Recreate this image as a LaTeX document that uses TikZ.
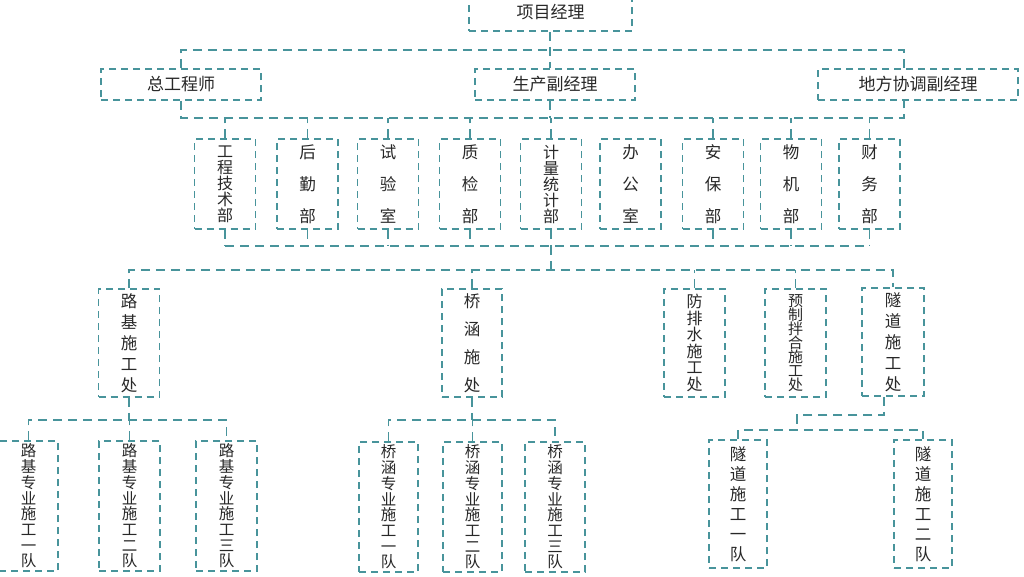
\documentclass[tikz,border=0pt]{standalone}
\usepackage{fontspec}
\newfontfamily\cjk{Noto Sans CJK SC}
\definecolor{tl}{RGB}{72,148,155}
\definecolor{txt}{RGB}{40,40,40}
\begin{document}
\begin{tikzpicture}[x=1pt,y=-1pt,
  box/.style={draw=tl, line width=1.5pt, dash pattern=on 7pt off 5pt, inner sep=0pt, align=center, text=txt},
  conn/.style={draw=tl, line width=1.5pt, dash pattern=on 9pt off 6pt},
  wide/.style={box, minimum height=31pt, font=\cjk\fontsize{17}{19}\selectfont},
  dept/.style={box, minimum width=61pt, minimum height=90pt},
  d5/.style={dept, font=\cjk\fontsize{16}{16}\selectfont},
  d3/.style={dept, font=\cjk\fontsize{16.5}{32}\selectfont},
  off/.style={box, minimum width=61pt, minimum height=108pt},
  team/.style={box, minimum width=60pt, minimum height=130pt}
]
\useasboundingbox (0,0) rectangle (1024,576);
\fill[white] (0,0) rectangle (1024,576);

% level 1 and 2
\node[wide, minimum width=163pt, minimum height=36pt] (pm) at (550.5,13) {\raisebox{3pt}{项目经理}};
\node[wide, minimum width=160pt] (ce) at (181,84.5) {总工程师};
\node[wide, minimum width=160pt] (dpm) at (555,84.5) {生产副经理};
\node[wide, minimum width=200pt] (lc) at (918,84.5) {地方协调副经理};

\coordinate (b1r) at (904,50);
\coordinate (b2r) at (904,118);
\coordinate (v2) at (550,118);
\draw[conn] (pm.south -| v2) -- (dpm.north -| v2);
\draw[conn] (ce.north) |- (b1r) -- (b1r |- lc.north);
\draw[conn] (ce.south) |- (b2r) -- (b2r |- lc.south);
\draw[conn] (dpm.south -| v2) -- (v2);

% level 3
\node[d5] (d1) at (225,184) {工\\程\\技\\术\\部};
\node[d3] (d2) at (307.5,184) {后\\勤\\部};
\node[d3] (d3) at (388,184) {试\\验\\室};
\node[d3] (d4) at (470,184) {质\\检\\部};
\node[d5] (d5) at (551,184) {计\\量\\统\\计\\部};
\node[d3] (d6) at (630.5,184) {办\\公\\室};
\node[d3] (d7) at (713,184) {安\\保\\部};
\node[d3] (d8) at (791,184) {物\\机\\部};
\node[d3] (d9) at (869.5,184) {财\\务\\部};

\coordinate (b3) at (0,246);
\coordinate (b4) at (0,270);
\foreach \n in {d1,d2,d3,d4,d5,d7,d8,d9}{
  \draw[conn] (\n.north) -- (\n.north |- b2r);
  \draw[conn] (\n.south) -- (\n.south |- b3);
}
\draw[conn] (d1.south |- b3) -- (d9.south |- b3);
\draw[conn] (d5.south |- b3) -- (d5.south |- b4);

% level 4
\node[off, font=\cjk\fontsize{16.5}{21}\selectfont] (r1) at (129,343) {路\\基\\施\\工\\处};
\node[off, minimum width=60pt, font=\cjk\fontsize{16.5}{28}\selectfont] (r2) at (472,343) {桥\\涵\\施\\处};
\node[off, font=\cjk\fontsize{16}{16.6}\selectfont] (r3) at (694.5,343) {防\\排\\水\\施\\工\\处};
\node[off, font=\cjk\fontsize{15}{13.8}\selectfont] (r4) at (795.5,343) {预\\制\\拌\\合\\施\\工\\处};
\node[off, minimum width=62pt, font=\cjk\fontsize{16.5}{21}\selectfont] (r5) at (893,342) {隧\\道\\施\\工\\处};

\draw[conn] (r1.north) |- (r5.north |- b4) -- (r5.north);
\foreach \n in {r2,r3,r4}{
  \draw[conn] (\n.north) -- (\n.north |- b4);
}

% level 5
\coordinate (b5) at (0,420);
\node[team, minimum width=59pt, font=\cjk\fontsize{15.5}{15.7}\selectfont] (a1) at (28.5,506) {路\\基\\专\\业\\施\\工\\一\\队};
\node[team, minimum width=61pt, font=\cjk\fontsize{15.5}{15.7}\selectfont] (a2) at (129.5,506) {路\\基\\专\\业\\施\\工\\二\\队};
\node[team, minimum width=61pt, font=\cjk\fontsize{15.5}{15.7}\selectfont] (a3) at (226.5,506) {路\\基\\专\\业\\施\\工\\三\\队};
\draw[conn] (a1.north) |- (a3.north |- b5) -- (a3.north);
\draw[conn] (r1.south) -- (r1.south |- b5);
\draw[conn] (a2.north) -- (a2.north |- b5);

\node[team, minimum width=59pt, font=\cjk\fontsize{15.5}{15.7}\selectfont] (q1) at (388.5,507) {桥\\涵\\专\\业\\施\\工\\一\\队};
\node[team, minimum width=59pt, font=\cjk\fontsize{15.5}{15.7}\selectfont] (q2) at (472.5,507) {桥\\涵\\专\\业\\施\\工\\二\\队};
\node[team, minimum width=60pt, font=\cjk\fontsize{15.5}{15.7}\selectfont] (q3) at (555,507) {桥\\涵\\专\\业\\施\\工\\三\\队};
\draw[conn] (q1.north) |- (q3.north |- b5) -- (q3.north);
\draw[conn] (r2.south) -- (r2.south |- b5);
\draw[conn] (q2.north) -- (q2.north |- b5);

\node[team, minimum width=58pt, minimum height=128pt, font=\cjk\fontsize{16.5}{20}\selectfont] (t1) at (738,504) {隧\\道\\施\\工\\一\\队};
\node[team, minimum width=58pt, minimum height=128pt, font=\cjk\fontsize{16.5}{20}\selectfont] (t2) at (923,504) {隧\\道\\施\\工\\二\\队};
\coordinate (k1) at (884,415);
\coordinate (k2) at (797,430);
\draw[conn] (k1 |- r5.south) -- (k1) -| (k2);
\draw[conn] (t1.north) |- (t2.north |- k2) -- (t2.north);
\end{tikzpicture}
\end{document}
